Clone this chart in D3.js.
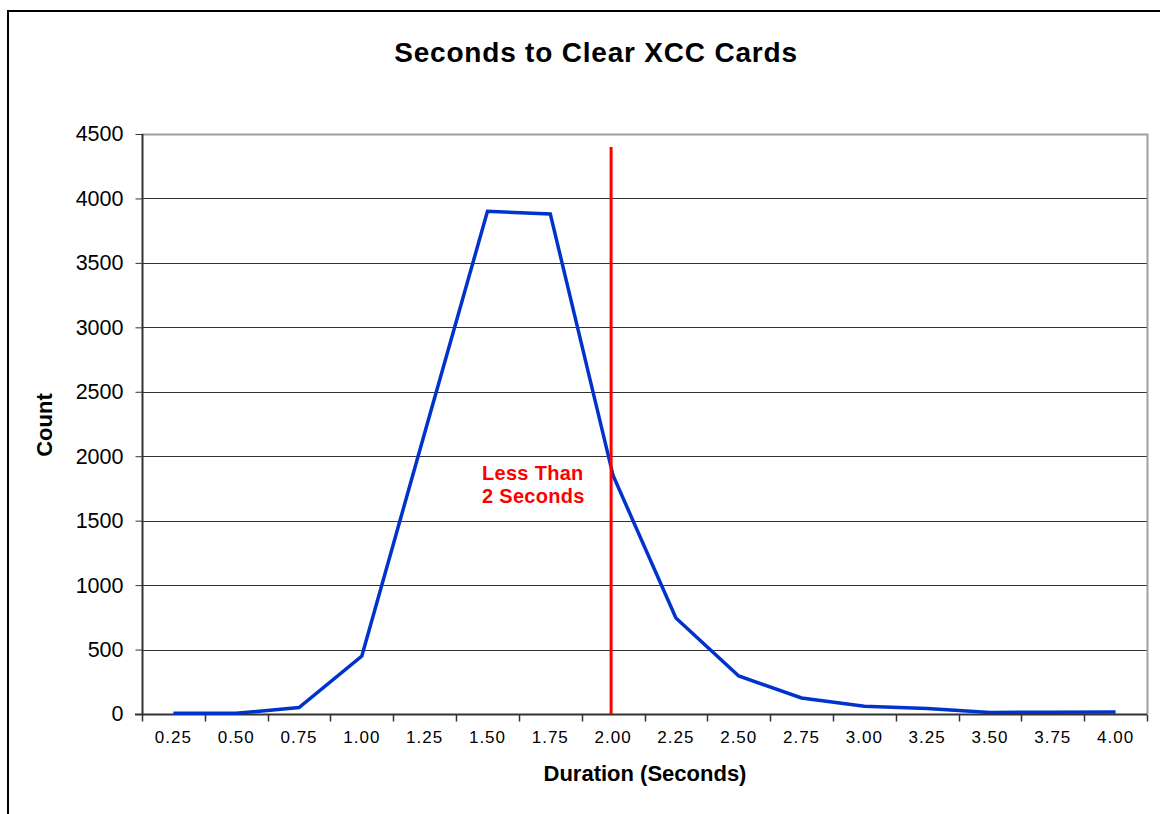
<!DOCTYPE html>
<html>
<head>
<meta charset="utf-8">
<script src="https://cdn.jsdelivr.net/npm/d3@7"></script>
<style>
  body { margin: 0; background: #fff; }
  text { font-family: "Liberation Sans", Arial, sans-serif; }
</style>
</head>
<body>
<script>
const categories = ['0.25', '0.50', '0.75', '1.00', '1.25', '1.50', '1.75', '2.00',
                    '2.25', '2.50', '2.75', '3.00', '3.25', '3.50', '3.75', '4.00'];
const counts = [5, 5, 50, 450, 2180, 3900, 3880, 1850, 745, 295, 124, 60, 42, 12, 14, 16];
const yTicks = [0, 500, 1000, 1500, 2000, 2500, 3000, 3500, 4000, 4500];
const markerCategory = '2.00';
const markerTop = 4400;
const markerLabel = ['Less Than', '2 Seconds'];

const width = 1160, height = 814;
const margin = {top: 134, right: 13, bottom: 100, left: 142};

const svg = d3.select('body').append('svg')
    .attr('width', width)
    .attr('height', height);

// outer chart border
svg.append('path')
    .attr('d', 'M8,' + height + ' V11 H' + width)
    .attr('fill', 'none')
    .attr('stroke', '#000')
    .attr('stroke-width', 2);

const x = d3.scaleBand()
    .domain(categories)
    .range([margin.left, width - margin.right]);

const y = d3.scaleLinear()
    .domain([0, 4500])
    .range([height - margin.bottom, margin.top]);

// gridlines
svg.append('g')
    .selectAll('line')
    .data(yTicks.filter(d => d > 0 && d < 4500))
    .enter().append('line')
    .attr('x1', margin.left)
    .attr('x2', width - margin.right)
    .attr('y1', d => Math.round(y(d)) + 0.5)
    .attr('y2', d => Math.round(y(d)) + 0.5)
    .attr('stroke', '#333')
    .attr('stroke-width', 1);

// plot area top & right border
svg.append('path')
    .attr('d', 'M' + margin.left + ',' + (Math.round(y(4500)) + 0.5) +
        ' H' + (width - margin.right + 0.5) + ' V' + y(0))
    .attr('fill', 'none')
    .attr('stroke', '#a0a0a0')
    .attr('stroke-width', 2);

// y axis
const yAxis = svg.append('g')
    .attr('transform', 'translate(' + (margin.left + 0.5) + ',0)')
    .call(d3.axisLeft(y).tickValues(yTicks).tickSize(7).tickPadding(12).tickFormat(d3.format('d')));
yAxis.select('.domain').attr('stroke', '#333').attr('stroke-width', 2)
    .attr('d', 'M0,' + Math.round(y(4500)) + 'V' + y(0));
yAxis.selectAll('.tick line').attr('stroke', '#333');
yAxis.selectAll('text').attr('font-size', 21.5).attr('fill', '#000')
    .attr('font-family', '"Liberation Sans", Arial, sans-serif');

// x axis: ticks between categories
const xAxisG = svg.append('g')
    .attr('transform', 'translate(0,' + (Math.round(y(0)) + 0.5) + ')');
xAxisG.append('line')
    .attr('x1', margin.left - 7)
    .attr('x2', width - margin.right)
    .attr('stroke', '#333')
    .attr('stroke-width', 2);
const bounds = categories.map(c => x(c)).concat([x(categories[categories.length - 1]) + x.bandwidth()]);
xAxisG.selectAll('.xtick')
    .data(bounds)
    .enter().append('line')
    .attr('class', 'xtick')
    .attr('x1', d => Math.round(d) + 0.5)
    .attr('x2', d => Math.round(d) + 0.5)
    .attr('y1', 0)
    .attr('y2', 7)
    .attr('stroke', '#333')
    .attr('stroke-width', 1.5);
xAxisG.selectAll('.xlabel')
    .data(categories)
    .enter().append('text')
    .attr('class', 'xlabel')
    .attr('x', d => x(d) + x.bandwidth() / 2)
    .attr('y', 28)
    .attr('text-anchor', 'middle')
    .attr('font-size', 17)
    .attr('letter-spacing', 1)
    .text(d => d);

// series line
const line = d3.line()
    .x((d, i) => x(categories[i]) + x.bandwidth() / 2)
    .y(d => y(d));
svg.append('path')
    .datum(counts)
    .attr('d', line)
    .attr('fill', 'none')
    .attr('stroke', '#0033cc')
    .attr('stroke-width', 3.5)
    .attr('stroke-linejoin', 'miter');

// marker line at 2 seconds
const mx = x(markerCategory) + x.bandwidth() / 2 - 2;
svg.append('line')
    .attr('x1', mx).attr('x2', mx)
    .attr('y1', y(markerTop)).attr('y2', y(0))
    .attr('stroke', '#ff0000')
    .attr('stroke-width', 3);

svg.append('g')
    .selectAll('text')
    .data(markerLabel)
    .enter().append('text')
    .attr('x', 482)
    .attr('y', (d, i) => 480 + i * 23)
    .attr('fill', '#ff0000')
    .attr('font-weight', 'bold')
    .attr('font-size', 20)
    .attr('letter-spacing', 0.3)
    .text(d => d);

// title
svg.append('text')
    .attr('x', 596)
    .attr('y', 62)
    .attr('text-anchor', 'middle')
    .attr('font-weight', 'bold')
    .attr('font-size', 28)
    .attr('letter-spacing', 0.8)
    .text('Seconds to Clear XCC Cards');

// axis titles
svg.append('text')
    .attr('x', 645)
    .attr('y', 781)
    .attr('text-anchor', 'middle')
    .attr('font-weight', 'bold')
    .attr('font-size', 22)
    .text('Duration (Seconds)');

svg.append('text')
    .attr('transform', 'translate(52,425) rotate(-90)')
    .attr('text-anchor', 'middle')
    .attr('font-weight', 'bold')
    .attr('font-size', 22)
    .text('Count');
</script>
</body>
</html>
